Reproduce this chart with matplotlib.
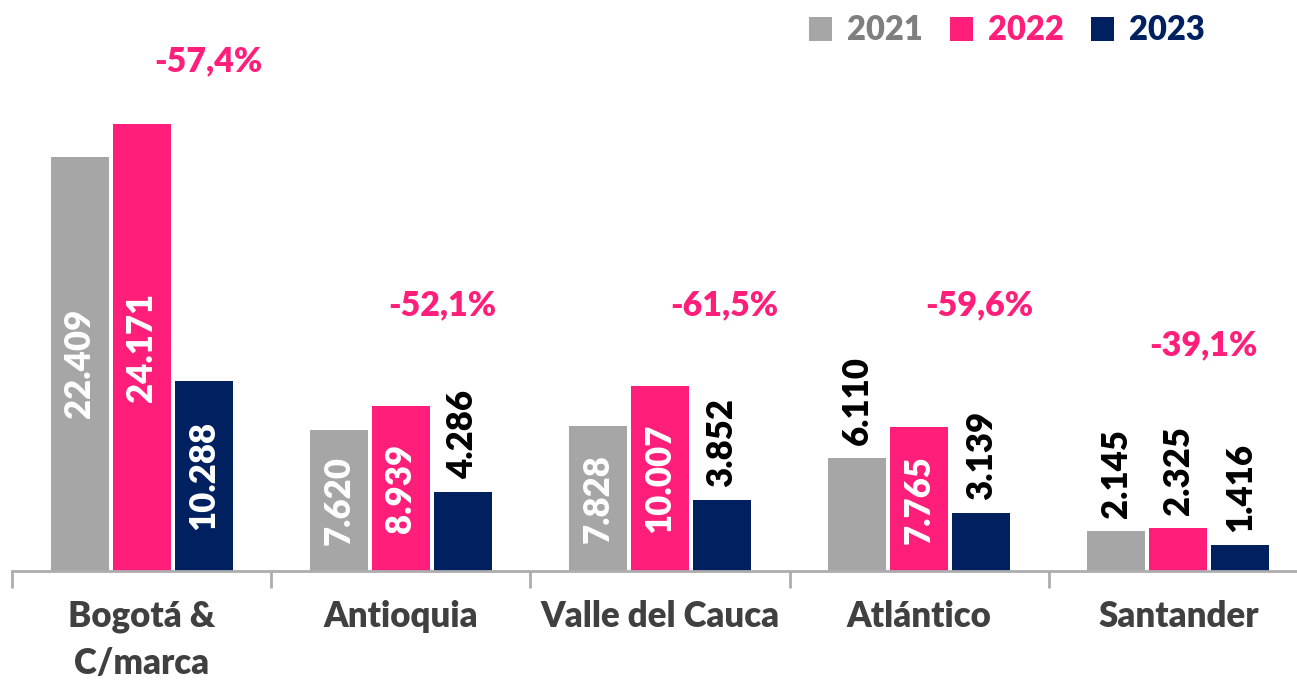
import matplotlib
matplotlib.use("Agg")
import matplotlib.pyplot as plt
from matplotlib.patches import Patch
import numpy as np

plt.rcParams['font.family'] = ['Lato', 'DejaVu Sans']

categories = ["Bogotá &\nC/marca", "Antioquia", "Valle del Cauca", "Atlántico", "Santander"]
years = ["2021", "2022", "2023"]
v2021 = [22409, 7620, 7828, 6110, 2145]
v2022 = [24171, 8939, 10007, 7765, 2325]
v2023 = [10288, 4286, 3852, 3139, 1416]
changes = ["-57,4%", "-52,1%", "-61,5%", "-59,6%", "-39,1%"]
inside2021 = [True, True, True, False, False]
inside2022 = [True, True, True, True, False]
inside2023 = [True, False, False, False, False]
chg_dx = [0.258, 0.161, 0.249, 0.231, 0.097]
chg_y = [27580, 14380, 14380, 14380, 12220]

colors = ["#A6A6A6", "#FF1F7A", "#002060"]
legend_text_colors = ["#7F7F7F", "#FF1F7A", "#002060"]

W, H = 1297, 681
fig = plt.figure(figsize=(W / 100, H / 100), dpi=100)
base_px = 571
ax = fig.add_axes([12 / W, (H - base_px) / H, 1296 / W, base_px / H])

x = np.arange(len(categories))
offset = 0.239
width = 0.224
series = [v2021, v2022, v2023]
insides = [inside2021, inside2022, inside2023]
ymax = 30876
ax.set_ylim(0, ymax)
ax.set_xlim(-0.5, len(categories) - 0.5)
WT = 'heavy'

px_per_unit = base_px / ymax
for i, (vals, col, ins) in enumerate(zip(series, colors, insides)):
    xs = x + (i - 1) * offset
    ax.bar(xs, vals, width=width, color=col, zorder=2)
    for xi, v, inside in zip(xs, vals, ins):
        lab = f"{v:,}".replace(",", ".")
        if inside:
            ax.text(xi, v / 2, lab, rotation=90, ha='center', va='center',
                    color='white', fontsize=25, fontweight=WT)
        else:
            ax.text(xi, v + 13 / px_per_unit, lab, rotation=90, ha='center', va='bottom',
                    color='black', fontsize=25, fontweight=WT)

for xi, dx, yv, t in zip(x, chg_dx, chg_y, changes):
    ax.text(xi + dx, yv, t, ha='center', va='center', color="#FF1F7A",
            fontsize=24.5, fontweight=WT)

for s in ['top', 'right', 'left']:
    ax.spines[s].set_visible(False)
ax.spines['bottom'].set_color('#ADADAD')
ax.spines['bottom'].set_linewidth(2)
ax.set_yticks([])
ax.set_xticks(np.arange(-0.5, len(categories) + 0.5, 1), minor=False)
ax.set_xticklabels([])
ax.tick_params(axis='x', which='major', length=12, width=2, color='#ADADAD')
ax.set_xticks(x, minor=True)
ax.set_xticklabels(categories, minor=True, fontsize=25, fontweight=WT,
                   color='#404040', linespacing=1.5)
ax.tick_params(axis='x', which='minor', length=0, pad=21)

handles = [Patch(facecolor=c, edgecolor='none') for c in colors]
leg = fig.legend(handles, years, loc='upper right', bbox_to_anchor=(1234 / W, 1.022),
                 ncol=3, frameon=False, handlelength=0.72, handleheight=0.72,
                 handletextpad=0.45, columnspacing=0.83, labelcolor=legend_text_colors,
                 prop={'weight': WT, 'size': 23.5})

fig.savefig("out.png", dpi=100)
